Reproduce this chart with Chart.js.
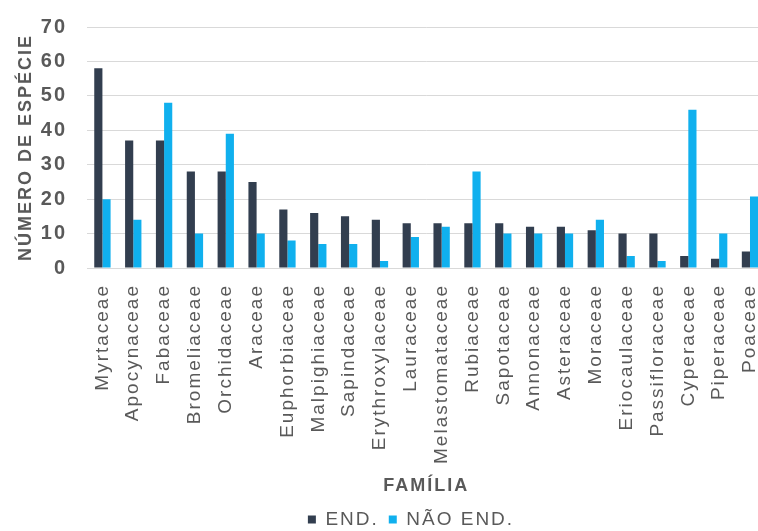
<!DOCTYPE html>
<html>
<head>
<meta charset="utf-8">
<script src="https://cdn.jsdelivr.net/npm/chart.js@4.4.1/dist/chart.umd.min.js"></script>
<style>
  html, body { margin: 0; padding: 0; background: #ffffff; overflow: hidden; }
  #wrap { width: 789px; height: 539px; }
</style>
</head>
<body>
<div id="wrap"><canvas id="especies"></canvas></div>
<script>
// ── Data ──
const familias = [
  'Myrtaceae', 'Apocynaceae', 'Fabaceae', 'Bromeliaceae', 'Orchidaceae', 'Araceae',
  'Euphorbiaceae', 'Malpighiaceae', 'Sapindaceae', 'Erythroxylaceae', 'Lauraceae',
  'Melastomataceae', 'Rubiaceae', 'Sapotaceae', 'Annonaceae', 'Asteraceae', 'Moraceae',
  'Eriocaulaceae', 'Passifloraceae', 'Cyperaceae', 'Piperaceae', 'Poaceae'
];
const endemicas = [58, 37, 37, 28, 28, 25, 17, 16, 15, 14, 13, 13, 13, 13, 12, 12, 11, 10, 10, 3.5, 2.7, 4.8];
const naoEndemicas = [20, 14, 48, 10, 39, 10, 8, 7, 7, 2, 9, 12, 28, 10, 10, 10, 14, 3.5, 2, 46, 10, 20.8];
const yTicks = [0, 10, 20, 30, 40, 50, 60, 70];

const textColor = '#595959';
const gridColor = '#d9d9d9';

// letter spacing gets lost whenever the canvas is resized, so set it again
const spacingPlugin = {
  id: 'spacing',
  beforeUpdate(chart) { chart.ctx.letterSpacing = '2px'; },
  beforeLayout(chart) { chart.ctx.letterSpacing = '2px'; },
  afterLayout(chart) {
    // legend sits a bit right of the canvas centre in the original
    chart.legend.left += 21;
    chart.legend.right += 21;
  },
  beforeDraw(chart) { chart.ctx.letterSpacing = '2px'; }
};

const ctx = document.getElementById('especies').getContext('2d');
ctx.letterSpacing = '2px';

new Chart(ctx, {
  type: 'bar',
  data: {
    labels: familias,
    datasets: [
      {
        label: 'END.',
        data: endemicas,
        backgroundColor: '#323e4f',
        barPercentage: 1,
        categoryPercentage: 0.53
      },
      {
        label: 'NÃO END.',
        data: naoEndemicas,
        backgroundColor: '#10b0ee',
        barPercentage: 1,
        categoryPercentage: 0.53
      }
    ]
  },
  options: {
    responsive: true,
    maintainAspectRatio: false,
    animation: false,
    layout: { padding: { top: 27, left: 0, right: 9, bottom: 0 } },
    plugins: {
      tooltip: { enabled: false },
      legend: {
        position: 'bottom',
        labels: {
          color: textColor,
          font: { family: 'Liberation Sans', size: 19 },
          boxWidth: 8,
          boxHeight: 8,
          padding: 10
        }
      }
    },
    scales: {
      x: {
        grid: { display: false, drawTicks: false },
        border: { color: gridColor },
        ticks: {
          color: textColor,
          font: { family: 'Liberation Sans', size: 19 },
          maxRotation: 90,
          minRotation: 90,
          padding: 16,
          autoSkip: false
        },
        title: {
          display: true,
          text: 'FAMÍLIA',
          color: textColor,
          font: { family: 'Liberation Sans', size: 18, weight: 'bold' },
          padding: { top: 13, bottom: 3 }
        },
        afterFit(axis) { axis.height = 232; }
      },
      y: {
        min: yTicks[0],
        max: yTicks[yTicks.length - 1],
        afterBuildTicks(axis) {
          axis.ticks = yTicks.map(v => ({ value: v }));
        },
        grid: { color: gridColor, drawTicks: false },
        border: { display: false },
        ticks: {
          color: textColor,
          font: { family: 'Liberation Sans', size: 20, weight: 'bold' },
          padding: 20
        },
        title: {
          display: true,
          text: 'NÚMERO DE ESPÉCIE',
          color: textColor,
          font: { family: 'Liberation Sans', size: 18, weight: 'bold' },
          padding: { top: 15, bottom: 7 }
        },
        afterFit(axis) {
          axis.width = 87;
          // tick padding would otherwise push the plot top down
          axis.paddingTop = 0;
          axis.paddingBottom = 0;
        }
      }
    }
  },
  plugins: [spacingPlugin]
});
</script>
</body>
</html>
